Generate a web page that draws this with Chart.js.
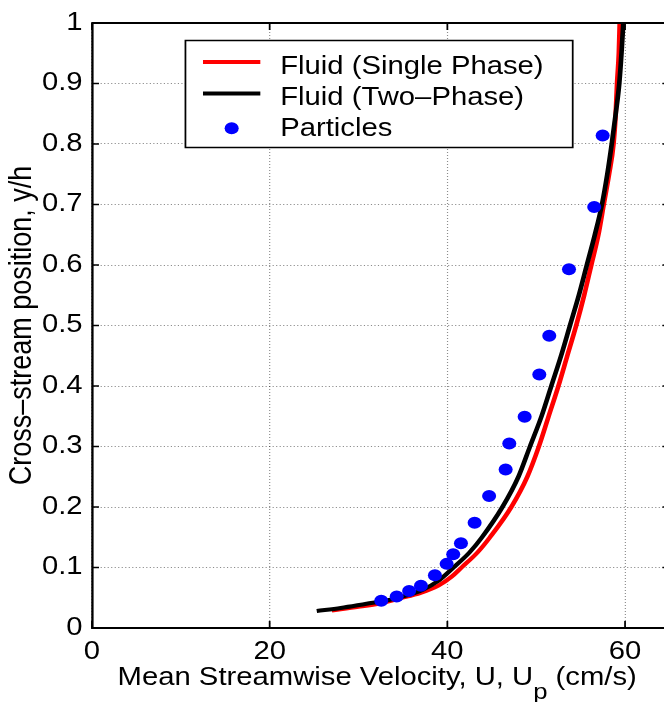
<!DOCTYPE html>
<html>
<head>
<meta charset="utf-8">
<script src="https://cdn.jsdelivr.net/npm/chart.js@4.4.1/dist/chart.umd.min.js"></script>
<style>
html,body{margin:0;padding:0;background:#fff;overflow:hidden;}
canvas{display:block;}
</style>
</head>
<body>
<canvas id="c" width="664" height="702"></canvas>
<script>
// ---- data ----
const singleU = [27.0, 30.0, 32.5, 34.7, 37.0, 39.0, 40.5, 41.6, 43.4, 44.8, 47.2, 49.0, 50.3, 51.4, 52.5, 53.5, 54.5, 55.4, 56.2, 57.0, 57.6, 58.2, 58.7, 58.95, 59.1, 59.3, 59.4];
const singleY = [0.029, 0.035, 0.041, 0.049, 0.058, 0.070, 0.085, 0.10, 0.125, 0.15, 0.20, 0.25, 0.30, 0.35, 0.40, 0.45, 0.50, 0.55, 0.60, 0.65, 0.70, 0.75, 0.80, 0.85, 0.90, 0.95, 1.00];

const twoU = [25.3, 28.0, 30.9, 33.0, 35.0, 37.2, 39.0, 40.7, 42.5, 43.9, 46.2, 48.0, 49.3, 50.6, 51.7, 52.8, 53.8, 54.8, 55.7, 56.6, 57.4, 58.0, 58.5, 58.95, 59.35, 59.6, 59.8];
const twoY = [0.028, 0.033, 0.040, 0.045, 0.052, 0.063, 0.078, 0.10, 0.125, 0.15, 0.20, 0.25, 0.30, 0.35, 0.40, 0.45, 0.50, 0.55, 0.60, 0.65, 0.70, 0.75, 0.80, 0.85, 0.90, 0.95, 1.00];

const particleU = [32.56, 34.30, 35.70, 37.03, 38.60, 39.92, 40.66, 41.53, 43.07, 44.70, 46.56, 46.97, 48.70, 50.35, 51.47, 53.69, 56.53, 57.48];
const particleY = [0.045, 0.052, 0.061, 0.070, 0.087, 0.106, 0.122, 0.140, 0.174, 0.218, 0.262, 0.305, 0.349, 0.419, 0.483, 0.593, 0.696, 0.814];

const seriesLabels = ['Fluid (Single Phase)', 'Fluid (Two\u2013Phase)', 'Particles'];
const seriesColors = ['#ff0000', '#000000', '#0000ff'];

const xTicks = [0, 20, 40, 60];
const xTickLabels = ['0', '20', '40', '60'];
const yTicks = [0, 0.1, 0.2, 0.3, 0.4, 0.5, 0.6, 0.7, 0.8, 0.9, 1];
const yTickLabels = ['0', '0.1', '0.2', '0.3', '0.4', '0.5', '0.6', '0.7', '0.8', '0.9', '1'];
const xLimits = [0, 65];
const yLimits = [0, 1];

const xTitleMain = 'Mean Streamwise Velocity, U, U';
const xTitleSub = 'p';
const xTitleEnd = ' (cm/s)';
const yTitle = 'Cross\u2013stream position, y/h';

// ---- presentation ----
const SX = 1.17;           // horizontal stretch of the original figure
const FONT = '"Liberation Sans", Arial, Helvetica, sans-serif';

const toPts = (xs, ys) => xs.map((v, i) => ({x: v, y: ys[i]}));
const pickLabel = (ticks, labels, v) => {
  const k = ticks.findIndex(t => Math.abs(t - v) < 1e-6);
  return k >= 0 ? labels[k] : '';
};

const figurePlugin = {
  id: 'figure',
  beforeDraw(chart) {
    const ctx = chart.ctx;
    ctx.save();
    ctx.setTransform(SX, 0, 0, 1, 0, 0);
  },
  afterDraw(chart) {
    const ctx = chart.ctx;
    const a = chart.chartArea;
    const xs = chart.scales.x, ys = chart.scales.y;
    const line = (x1, y1, x2, y2) => { ctx.beginPath(); ctx.moveTo(x1, y1); ctx.lineTo(x2, y2); ctx.stroke(); };

    // inward tick marks + top/right box
    ctx.save();
    ctx.strokeStyle = '#000';
    ctx.lineWidth = 1.5;
    xs.ticks.forEach(t => {
      const px = xs.getPixelForValue(t.value);
      line(px, a.bottom, px, a.bottom - 7);
      line(px, a.top, px, a.top + 7);
    });
    ys.ticks.forEach(t => {
      const py = ys.getPixelForValue(t.value);
      line(a.left, py, a.left + 6, py);
      line(a.right, py, a.right - 6, py);
    });
    ctx.lineWidth = 2;
    line(a.left, a.top, a.right, a.top);
    line(a.right, a.top, a.right, a.bottom);
    ctx.restore();

    // legend box
    ctx.save();
    const lx = 158.5, ly = 40.5, lw = 331, lh = 107;
    ctx.fillStyle = '#fff';
    ctx.fillRect(lx, ly, lw, lh);
    ctx.strokeStyle = '#000';
    ctx.lineWidth = 1.5;
    ctx.strokeRect(lx, ly, lw, lh);
    const rows = [62, 93.5, 128.3];
    const bases = [73.5, 105, 135.5];
    ctx.font = '25px ' + FONT;
    ctx.textBaseline = 'alphabetic';
    ctx.textAlign = 'left';
    chart.data.datasets.forEach((ds, i) => {
      if (ds.showLine) {
        ctx.strokeStyle = ds.borderColor;
        ctx.lineWidth = 4;
        line(173.5, rows[i], 222.5, rows[i]);
      } else {
        ctx.fillStyle = ds.backgroundColor;
        ctx.beginPath();
        ctx.arc(198, rows[i], 6, 0, Math.PI * 2);
        ctx.fill();
      }
      ctx.fillStyle = '#000';
      ctx.fillText(ds.label, 239.5, bases[i]);
    });
    ctx.restore();

    // x axis title with subscript
    ctx.save();
    ctx.fillStyle = '#000';
    ctx.textBaseline = 'alphabetic';
    ctx.textAlign = 'left';
    const mainFont = '25px ' + FONT, subFont = '22px ' + FONT;
    ctx.font = mainFont;
    const w1 = ctx.measureText(xTitleMain).width;
    const w3 = ctx.measureText(xTitleEnd).width;
    ctx.font = subFont;
    const w2 = ctx.measureText(xTitleSub).width;
    const total = w1 + w2 + w3;
    let x0 = (a.left + a.right) / 2 - 3 - total / 2;
    const base = 685;
    ctx.font = mainFont;
    ctx.fillText(xTitleMain, x0, base);
    ctx.font = subFont;
    ctx.fillText(xTitleSub, x0 + w1, base + 14);
    ctx.font = mainFont;
    ctx.fillText(xTitleEnd, x0 + w1 + w2, base);
    ctx.restore();

    ctx.restore(); // undo stretch
  }
};

const gridStyle = {
  color: 'rgba(0,0,0,0.45)',
  lineWidth: 1,
  drawTicks: false
};

new Chart(document.getElementById('c'), {
  type: 'scatter',
  data: {
    datasets: [
      {
        label: seriesLabels[0],
        data: toPts(singleU, singleY),
        showLine: true,
        borderColor: seriesColors[0],
        backgroundColor: seriesColors[0],
        borderWidth: 4,
        pointRadius: 0,
        cubicInterpolationMode: 'monotone',
        order: 3
      },
      {
        label: seriesLabels[1],
        data: toPts(twoU, twoY),
        showLine: true,
        borderColor: seriesColors[1],
        backgroundColor: seriesColors[1],
        borderWidth: 4,
        pointRadius: 0,
        cubicInterpolationMode: 'monotone',
        order: 2
      },
      {
        label: seriesLabels[2],
        data: toPts(particleU, particleY),
        showLine: false,
        backgroundColor: seriesColors[2],
        borderColor: seriesColors[2],
        borderWidth: 0,
        pointRadius: 6,
        pointHoverRadius: 6,
        order: 1
      }
    ]
  },
  options: {
    responsive: false,
    animation: false,
    devicePixelRatio: 1,
    events: [],
    layout: { padding: { top: 17.3, left: 0, bottom: 0, right: 91.8 } },
    plugins: {
      legend: { display: false },
      tooltip: { enabled: false },
      title: { display: false }
    },
    scales: {
      x: {
        type: 'linear',
        min: xLimits[0],
        max: xLimits[1],
        afterFit: s => { s.height = 74; },
        ticks: {
          stepSize: 20,
          includeBounds: false,
          color: '#000',
          font: { family: FONT, size: 25 },
          padding: 9,
          maxRotation: 0,
          callback: v => pickLabel(xTicks, xTickLabels, v)
        },
        grid: gridStyle,
        border: { display: true, color: '#000', width: 2, dash: [1, 2] }
      },
      y: {
        type: 'linear',
        min: yLimits[0],
        max: yLimits[1],
        afterFit: s => { s.width = 78.6; },
        ticks: {
          stepSize: 0.1,
          includeBounds: false,
          color: '#000',
          font: { family: FONT, size: 25 },
          padding: 8,
          callback: v => pickLabel(yTicks, yTickLabels, v)
        },
        grid: gridStyle,
        border: { display: true, color: '#000', width: 2, dash: [1, 2] },
        title: {
          display: true,
          text: yTitle,
          color: '#000',
          font: { family: FONT, size: 27 },
          padding: { top: 3, bottom: 0 }
        }
      }
    }
  },
  plugins: [figurePlugin]
});
</script>
</body>
</html>
